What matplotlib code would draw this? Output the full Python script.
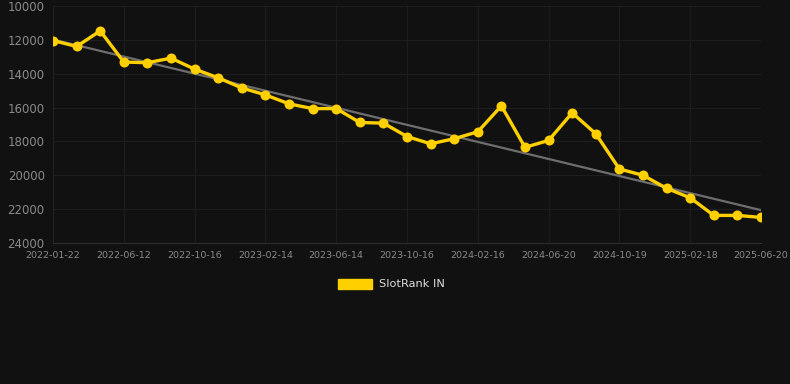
import numpy as np
import matplotlib
matplotlib.use("Agg")
import matplotlib.pyplot as plt

# rank values (y axis inverted)
ranks = [12040, 12390, 11470, 13310, 13350, 13080, 13730, 14240, 14840, 15250,
         15780, 16060, 16060, 16880, 16920, 17710, 18140, 17840, 17430, 15900,
         18350, 17940, 16310, 17550, 19630, 20000, 20770, 21330, 22370, 22370,
         22490]
tick_labels = ["2022-01-22", "2022-06-12", "2022-10-16", "2023-02-14",
               "2023-06-14", "2023-10-16", "2024-02-16", "2024-06-20",
               "2024-10-19", "2025-02-18", "2025-06-20"]
series_name = "SlotRank IN"
trend_ends = [11980, 22060]   # trend line at first and last point

bg = "#111111"
x = np.arange(len(ranks))

fig = plt.figure(figsize=(7.9, 3.84), dpi=100, facecolor=bg)
ax = fig.add_axes([53/790, 1-243/384, (761-53)/790, (243-6)/384], facecolor=bg)

ax.plot([x[0], x[-1]], trend_ends, color="#6e6e6e", lw=1.6, zorder=2)

ax.plot(x, ranks, color="#FFD000", lw=2.4, marker="o", ms=7.2,
        markeredgewidth=0, zorder=3, label=series_name)

ax.set_xlim(0, len(ranks) - 1)
ax.set_ylim(24000, 10000)
ax.set_yticks(range(10000, 24001, 2000))
ax.set_xticks(x[::3])
ax.set_xticklabels(tick_labels)

ax.grid(True, color="#1e1e1e", lw=0.8)
ax.set_axisbelow(True)
for s in ["top", "right"]:
    ax.spines[s].set_visible(False)
ax.spines["left"].set_color("#232323")
ax.spines["bottom"].set_color("#2e2e2e")
ax.tick_params(axis="y", colors="#8a8a8a", labelsize=8.5, length=0, pad=6)
ax.tick_params(axis="x", colors="#8a8a8a", labelsize=6.8, length=0, pad=6)

fig.legend(handles=[plt.Rectangle((0, 0), 1, 1, color="#FFD000")],
           labels=[series_name], loc="center", bbox_to_anchor=(391/790, 1-284/384),
           frameon=False, handlelength=3.0, handleheight=1.0, handletextpad=0.6,
           fontsize=8.2, labelcolor="#dddddd")

fig.savefig("out.png", dpi=100, facecolor=bg)
